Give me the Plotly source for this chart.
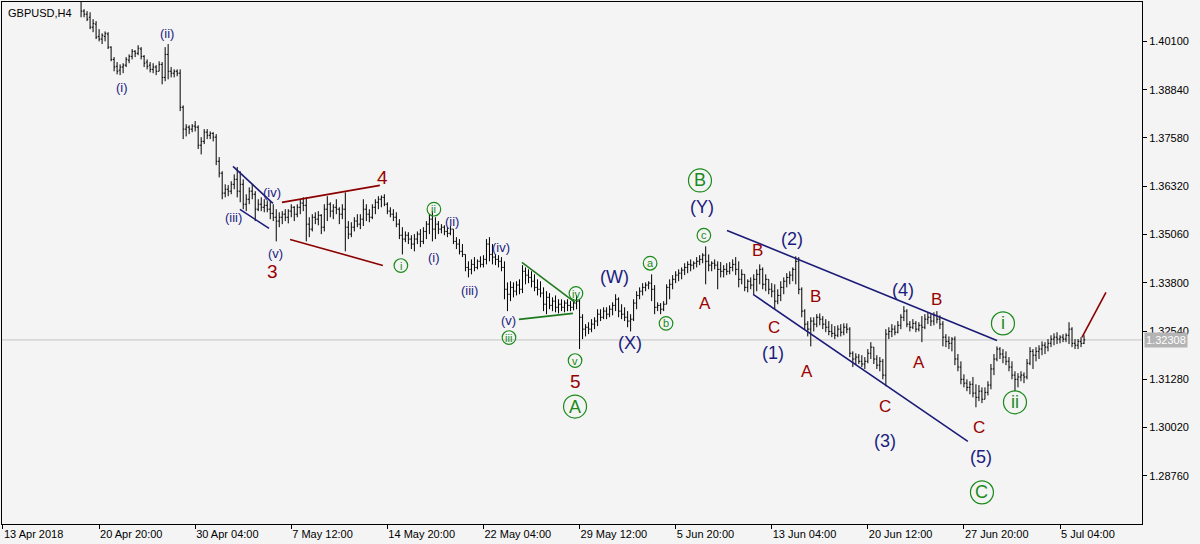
import plotly.graph_objects as go

# ---------------- data (GBPUSD H4) ----------------
FIRST_BAR = 26  # bar index of the first visible bar (index 0 = "13 Apr 2018" tick)

bar_open = [
    1.4133, 1.4089, 1.4081, 1.4073, 1.4047, 1.4055, 1.4023, 1.4016, 1.4023, 1.4029,
    1.3995, 1.3963, 1.3945, 1.3935, 1.3943, 1.3948, 1.3961, 1.3971, 1.3984, 1.3979,
    1.3990, 1.3971, 1.3956, 1.3948, 1.3937, 1.3943, 1.3932, 1.3950, 1.3916, 1.3976,
    1.3932, 1.3927, 1.3932, 1.3927, 1.3838, 1.3781, 1.3786, 1.3781, 1.3789, 1.3786,
    1.3739, 1.3749, 1.3773, 1.3765, 1.3770, 1.3760, 1.3697, 1.3666, 1.3614, 1.3624,
    1.3619, 1.3637, 1.3650, 1.3619, 1.3637, 1.3585, 1.3598, 1.3619, 1.3611, 1.3572,
    1.3585, 1.3577, 1.3582, 1.3572, 1.3561, 1.3551, 1.3541, 1.3551, 1.3559, 1.3551,
    1.3567, 1.3577, 1.3559, 1.3577, 1.3588, 1.3582, 1.3533, 1.3520, 1.3551, 1.3546,
    1.3556, 1.3525, 1.3572, 1.3585, 1.3567, 1.3577, 1.3572, 1.3559, 1.3572, 1.3525,
    1.3507, 1.3525, 1.3541, 1.3533, 1.3546, 1.3572, 1.3559, 1.3551, 1.3577, 1.3590,
    1.3598, 1.3603, 1.3585, 1.3567, 1.3559, 1.3551, 1.3533, 1.3504, 1.3494, 1.3504,
    1.3494, 1.3481, 1.3494, 1.3507, 1.3488, 1.3514, 1.3533, 1.3546, 1.3520, 1.3533,
    1.3520, 1.3525, 1.3514, 1.3509, 1.3520, 1.3488, 1.3481, 1.3462, 1.3454, 1.3420,
    1.3415, 1.3428, 1.3420, 1.3436, 1.3428, 1.3441, 1.3481, 1.3454, 1.3447, 1.3441,
    1.3436, 1.3420, 1.3363, 1.3350, 1.3368, 1.3358, 1.3374, 1.3363, 1.3410, 1.3400,
    1.3394, 1.3384, 1.3368, 1.3363, 1.3353, 1.3324, 1.3342, 1.3321, 1.3332, 1.3316,
    1.3324, 1.3316, 1.3327, 1.3321, 1.3316, 1.3327, 1.3332, 1.3290, 1.3259, 1.3264,
    1.3259, 1.3272, 1.3280, 1.3298, 1.3290, 1.3306, 1.3298, 1.3311, 1.3321, 1.3337,
    1.3306, 1.3298, 1.3290, 1.3280, 1.3285, 1.3327, 1.3347, 1.3358, 1.3368, 1.3374,
    1.3379, 1.3363, 1.3316, 1.3321, 1.3311, 1.3324, 1.3368, 1.3376, 1.3389, 1.3400,
    1.3405, 1.3413, 1.3420, 1.3428, 1.3426, 1.3431, 1.3436, 1.3441, 1.3452, 1.3436,
    1.3426, 1.3431, 1.3426, 1.3415, 1.3410, 1.3415, 1.3410, 1.3420, 1.3428, 1.3415,
    1.3389, 1.3402, 1.3368, 1.3384, 1.3374, 1.3389, 1.3402, 1.3415, 1.3376, 1.3389,
    1.3363, 1.3358, 1.3332, 1.3347, 1.3368, 1.3384, 1.3394, 1.3400, 1.3415, 1.3436,
    1.3363, 1.3306, 1.3272, 1.3259, 1.3280, 1.3272, 1.3290, 1.3285, 1.3272, 1.3264,
    1.3253, 1.3248, 1.3243, 1.3259, 1.3251, 1.3264, 1.3259, 1.3196, 1.3181, 1.3186,
    1.3175, 1.3168, 1.3175, 1.3196, 1.3212, 1.3181, 1.3165, 1.3175, 1.3139, 1.3246,
    1.3253, 1.3259, 1.3251, 1.3269, 1.3290, 1.3306, 1.3272, 1.3264, 1.3274, 1.3259,
    1.3269, 1.3264, 1.3285, 1.3290, 1.3280, 1.3295, 1.3285, 1.3272, 1.3238, 1.3227,
    1.3222, 1.3233, 1.3181, 1.3160, 1.3128, 1.3118, 1.3107, 1.3115, 1.3092, 1.3081,
    1.3097, 1.3076, 1.3094, 1.3113, 1.3155, 1.3181, 1.3207, 1.3194, 1.3186, 1.3175,
    1.3160, 1.3139, 1.3128, 1.3134, 1.3139, 1.3134, 1.3170, 1.3201, 1.3191, 1.3201,
    1.3207, 1.3217, 1.3212, 1.3222, 1.3233, 1.3238, 1.3233, 1.3238, 1.3233, 1.3243,
    1.3259, 1.3222, 1.3217, 1.3227, 1.3222,
]

bar_high = [
    1.4146, 1.4094, 1.4089, 1.4086, 1.4068, 1.4063, 1.4042, 1.4031, 1.4036, 1.4034,
    1.3997, 1.3969, 1.3956, 1.3950, 1.3953, 1.3969, 1.3976, 1.3990, 1.3987, 1.4000,
    1.3995, 1.3974, 1.3963, 1.3956, 1.3953, 1.3948, 1.3958, 1.3956, 1.3995, 1.4003,
    1.3943, 1.3937, 1.3937, 1.3937, 1.3843, 1.3794, 1.3791, 1.3794, 1.3802, 1.3791,
    1.3760, 1.3781, 1.3781, 1.3775, 1.3773, 1.3768, 1.3708, 1.3671, 1.3637, 1.3635,
    1.3645, 1.3663, 1.3682, 1.3671, 1.3650, 1.3611, 1.3629, 1.3637, 1.3619, 1.3598,
    1.3603, 1.3598, 1.3595, 1.3593, 1.3585, 1.3572, 1.3564, 1.3567, 1.3572, 1.3572,
    1.3585, 1.3580, 1.3585, 1.3598, 1.3603, 1.3603, 1.3551, 1.3559, 1.3564, 1.3567,
    1.3559, 1.3585, 1.3606, 1.3590, 1.3585, 1.3598, 1.3577, 1.3585, 1.3616, 1.3541,
    1.3538, 1.3551, 1.3559, 1.3559, 1.3598, 1.3585, 1.3572, 1.3585, 1.3598, 1.3606,
    1.3608, 1.3611, 1.3590, 1.3577, 1.3572, 1.3564, 1.3546, 1.3525, 1.3514, 1.3512,
    1.3504, 1.3507, 1.3514, 1.3520, 1.3525, 1.3541, 1.3559, 1.3567, 1.3551, 1.3541,
    1.3533, 1.3530, 1.3525, 1.3528, 1.3520, 1.3499, 1.3494, 1.3481, 1.3454, 1.3436,
    1.3441, 1.3447, 1.3441, 1.3449, 1.3452, 1.3494, 1.3499, 1.3481, 1.3454, 1.3452,
    1.3447, 1.3436, 1.3381, 1.3384, 1.3381, 1.3384, 1.3389, 1.3426, 1.3420, 1.3415,
    1.3410, 1.3402, 1.3389, 1.3384, 1.3368, 1.3358, 1.3353, 1.3342, 1.3347, 1.3337,
    1.3337, 1.3334, 1.3337, 1.3332, 1.3337, 1.3347, 1.3337, 1.3298, 1.3272, 1.3277,
    1.3285, 1.3290, 1.3311, 1.3311, 1.3316, 1.3316, 1.3321, 1.3329, 1.3350, 1.3342,
    1.3324, 1.3316, 1.3306, 1.3298, 1.3337, 1.3358, 1.3368, 1.3379, 1.3381, 1.3384,
    1.3402, 1.3374, 1.3329, 1.3327, 1.3332, 1.3376, 1.3389, 1.3400, 1.3410, 1.3415,
    1.3420, 1.3431, 1.3436, 1.3441, 1.3436, 1.3447, 1.3452, 1.3457, 1.3475, 1.3454,
    1.3436, 1.3441, 1.3436, 1.3434, 1.3426, 1.3431, 1.3434, 1.3441, 1.3447, 1.3436,
    1.3415, 1.3402, 1.3389, 1.3394, 1.3402, 1.3415, 1.3428, 1.3420, 1.3402, 1.3389,
    1.3379, 1.3376, 1.3363, 1.3384, 1.3394, 1.3405, 1.3410, 1.3420, 1.3449, 1.3447,
    1.3368, 1.3311, 1.3280, 1.3290, 1.3290, 1.3298, 1.3300, 1.3293, 1.3285, 1.3280,
    1.3272, 1.3267, 1.3269, 1.3272, 1.3274, 1.3274, 1.3264, 1.3201, 1.3196, 1.3194,
    1.3191, 1.3186, 1.3207, 1.3225, 1.3212, 1.3191, 1.3186, 1.3181, 1.3259, 1.3264,
    1.3272, 1.3269, 1.3280, 1.3298, 1.3319, 1.3311, 1.3280, 1.3285, 1.3280, 1.3277,
    1.3293, 1.3298, 1.3303, 1.3300, 1.3303, 1.3306, 1.3295, 1.3280, 1.3246, 1.3240,
    1.3238, 1.3240, 1.3194, 1.3175, 1.3141, 1.3128, 1.3123, 1.3134, 1.3115, 1.3113,
    1.3107, 1.3107, 1.3123, 1.3168, 1.3194, 1.3214, 1.3212, 1.3207, 1.3201, 1.3186,
    1.3175, 1.3149, 1.3144, 1.3149, 1.3146, 1.3181, 1.3212, 1.3207, 1.3212, 1.3217,
    1.3227, 1.3225, 1.3233, 1.3243, 1.3248, 1.3251, 1.3243, 1.3246, 1.3248, 1.3277,
    1.3264, 1.3233, 1.3233, 1.3238, 1.3243,
]

bar_low = [
    1.4073, 1.4073, 1.4063, 1.4042, 1.4034, 1.4016, 1.4010, 1.4003, 1.4010, 1.3990,
    1.3958, 1.3932, 1.3924, 1.3922, 1.3927, 1.3943, 1.3953, 1.3963, 1.3969, 1.3974,
    1.3963, 1.3943, 1.3937, 1.3929, 1.3927, 1.3922, 1.3932, 1.3898, 1.3906, 1.3911,
    1.3916, 1.3916, 1.3919, 1.3828, 1.3755, 1.3762, 1.3768, 1.3773, 1.3775, 1.3729,
    1.3715, 1.3742, 1.3755, 1.3755, 1.3749, 1.3687, 1.3655, 1.3598, 1.3603, 1.3606,
    1.3611, 1.3624, 1.3603, 1.3590, 1.3572, 1.3567, 1.3585, 1.3598, 1.3541, 1.3567,
    1.3567, 1.3564, 1.3564, 1.3546, 1.3541, 1.3488, 1.3525, 1.3533, 1.3541, 1.3535,
    1.3551, 1.3541, 1.3551, 1.3559, 1.3567, 1.3488, 1.3499, 1.3514, 1.3533, 1.3530,
    1.3507, 1.3514, 1.3541, 1.3551, 1.3546, 1.3559, 1.3533, 1.3546, 1.3462, 1.3494,
    1.3499, 1.3514, 1.3525, 1.3520, 1.3528, 1.3541, 1.3538, 1.3546, 1.3559, 1.3572,
    1.3577, 1.3580, 1.3559, 1.3551, 1.3541, 1.3525, 1.3494, 1.3454, 1.3486, 1.3481,
    1.3468, 1.3462, 1.3481, 1.3473, 1.3481, 1.3494, 1.3507, 1.3488, 1.3494, 1.3507,
    1.3509, 1.3504, 1.3499, 1.3504, 1.3481, 1.3468, 1.3454, 1.3447, 1.3410, 1.3394,
    1.3402, 1.3410, 1.3415, 1.3420, 1.3420, 1.3428, 1.3436, 1.3428, 1.3426, 1.3420,
    1.3410, 1.3337, 1.3306, 1.3332, 1.3342, 1.3347, 1.3350, 1.3353, 1.3376, 1.3379,
    1.3368, 1.3358, 1.3347, 1.3342, 1.3306, 1.3298, 1.3311, 1.3306, 1.3303, 1.3300,
    1.3306, 1.3303, 1.3306, 1.3306, 1.3308, 1.3311, 1.3207, 1.3233, 1.3240, 1.3246,
    1.3251, 1.3259, 1.3267, 1.3280, 1.3285, 1.3285, 1.3290, 1.3295, 1.3306, 1.3290,
    1.3285, 1.3280, 1.3264, 1.3253, 1.3280, 1.3311, 1.3337, 1.3347, 1.3358, 1.3363,
    1.3332, 1.3298, 1.3306, 1.3298, 1.3306, 1.3324, 1.3337, 1.3363, 1.3379, 1.3384,
    1.3389, 1.3400, 1.3405, 1.3410, 1.3415, 1.3420, 1.3426, 1.3431, 1.3376, 1.3410,
    1.3410, 1.3415, 1.3363, 1.3394, 1.3394, 1.3400, 1.3402, 1.3410, 1.3400, 1.3368,
    1.3376, 1.3358, 1.3355, 1.3363, 1.3350, 1.3358, 1.3376, 1.3363, 1.3358, 1.3350,
    1.3342, 1.3311, 1.3324, 1.3332, 1.3350, 1.3368, 1.3376, 1.3384, 1.3376, 1.3350,
    1.3290, 1.3259, 1.3240, 1.3214, 1.3253, 1.3264, 1.3269, 1.3259, 1.3251, 1.3243,
    1.3238, 1.3233, 1.3238, 1.3240, 1.3243, 1.3248, 1.3186, 1.3160, 1.3165, 1.3168,
    1.3160, 1.3155, 1.3170, 1.3181, 1.3168, 1.3155, 1.3149, 1.3128, 1.3110, 1.3233,
    1.3238, 1.3243, 1.3248, 1.3259, 1.3280, 1.3264, 1.3253, 1.3259, 1.3251, 1.3253,
    1.3225, 1.3259, 1.3272, 1.3267, 1.3269, 1.3274, 1.3259, 1.3214, 1.3212, 1.3207,
    1.3201, 1.3165, 1.3149, 1.3115, 1.3107, 1.3097, 1.3089, 1.3081, 1.3055, 1.3071,
    1.3066, 1.3076, 1.3086, 1.3102, 1.3139, 1.3175, 1.3181, 1.3170, 1.3165, 1.3149,
    1.3128, 1.3097, 1.3107, 1.3123, 1.3118, 1.3128, 1.3165, 1.3155, 1.3175, 1.3181,
    1.3191, 1.3194, 1.3201, 1.3212, 1.3217, 1.3220, 1.3222, 1.3225, 1.3225, 1.3220,
    1.3212, 1.3207, 1.3207, 1.3212, 1.3220,
]

bar_close = [
    1.4089, 1.4081, 1.4068, 1.4047, 1.4057, 1.4021, 1.4016, 1.4026, 1.4031, 1.3995,
    1.3963, 1.3943, 1.3932, 1.3943, 1.3948, 1.3963, 1.3971, 1.3984, 1.3979, 1.3992,
    1.3971, 1.3953, 1.3945, 1.3937, 1.3943, 1.3932, 1.3950, 1.3916, 1.3976, 1.3932,
    1.3927, 1.3932, 1.3927, 1.3838, 1.3781, 1.3786, 1.3781, 1.3789, 1.3786, 1.3739,
    1.3749, 1.3773, 1.3765, 1.3770, 1.3760, 1.3697, 1.3666, 1.3614, 1.3624, 1.3619,
    1.3637, 1.3650, 1.3619, 1.3637, 1.3585, 1.3598, 1.3619, 1.3611, 1.3572, 1.3585,
    1.3577, 1.3582, 1.3572, 1.3561, 1.3551, 1.3541, 1.3551, 1.3559, 1.3551, 1.3567,
    1.3577, 1.3559, 1.3577, 1.3588, 1.3582, 1.3533, 1.3520, 1.3551, 1.3546, 1.3556,
    1.3525, 1.3572, 1.3585, 1.3567, 1.3577, 1.3572, 1.3559, 1.3572, 1.3525, 1.3507,
    1.3525, 1.3541, 1.3533, 1.3546, 1.3572, 1.3559, 1.3551, 1.3577, 1.3590, 1.3598,
    1.3603, 1.3585, 1.3567, 1.3559, 1.3551, 1.3533, 1.3504, 1.3494, 1.3504, 1.3494,
    1.3481, 1.3494, 1.3507, 1.3488, 1.3514, 1.3533, 1.3546, 1.3520, 1.3533, 1.3520,
    1.3525, 1.3514, 1.3509, 1.3520, 1.3488, 1.3481, 1.3462, 1.3454, 1.3420, 1.3415,
    1.3428, 1.3420, 1.3436, 1.3428, 1.3441, 1.3481, 1.3454, 1.3447, 1.3441, 1.3436,
    1.3420, 1.3363, 1.3350, 1.3368, 1.3358, 1.3374, 1.3363, 1.3410, 1.3400, 1.3394,
    1.3384, 1.3368, 1.3363, 1.3353, 1.3324, 1.3342, 1.3321, 1.3332, 1.3316, 1.3324,
    1.3316, 1.3327, 1.3321, 1.3316, 1.3327, 1.3332, 1.3290, 1.3259, 1.3264, 1.3259,
    1.3272, 1.3280, 1.3298, 1.3290, 1.3306, 1.3298, 1.3311, 1.3321, 1.3337, 1.3306,
    1.3298, 1.3290, 1.3280, 1.3285, 1.3327, 1.3347, 1.3358, 1.3368, 1.3374, 1.3379,
    1.3363, 1.3316, 1.3321, 1.3311, 1.3324, 1.3368, 1.3376, 1.3389, 1.3400, 1.3405,
    1.3413, 1.3420, 1.3428, 1.3426, 1.3431, 1.3436, 1.3441, 1.3452, 1.3436, 1.3426,
    1.3431, 1.3426, 1.3415, 1.3410, 1.3415, 1.3410, 1.3420, 1.3428, 1.3415, 1.3389,
    1.3402, 1.3368, 1.3384, 1.3374, 1.3389, 1.3402, 1.3415, 1.3376, 1.3389, 1.3363,
    1.3358, 1.3332, 1.3347, 1.3368, 1.3384, 1.3394, 1.3400, 1.3415, 1.3436, 1.3363,
    1.3306, 1.3272, 1.3259, 1.3280, 1.3272, 1.3290, 1.3285, 1.3272, 1.3264, 1.3253,
    1.3248, 1.3243, 1.3259, 1.3251, 1.3264, 1.3259, 1.3196, 1.3181, 1.3186, 1.3175,
    1.3168, 1.3175, 1.3196, 1.3212, 1.3181, 1.3165, 1.3175, 1.3139, 1.3246, 1.3253,
    1.3259, 1.3251, 1.3269, 1.3290, 1.3306, 1.3272, 1.3264, 1.3274, 1.3259, 1.3269,
    1.3264, 1.3285, 1.3290, 1.3280, 1.3295, 1.3285, 1.3272, 1.3238, 1.3227, 1.3222,
    1.3233, 1.3181, 1.3160, 1.3128, 1.3118, 1.3107, 1.3115, 1.3092, 1.3081, 1.3097,
    1.3076, 1.3094, 1.3113, 1.3155, 1.3181, 1.3207, 1.3194, 1.3186, 1.3175, 1.3160,
    1.3139, 1.3128, 1.3134, 1.3139, 1.3134, 1.3170, 1.3201, 1.3191, 1.3201, 1.3207,
    1.3217, 1.3212, 1.3222, 1.3233, 1.3238, 1.3233, 1.3238, 1.3233, 1.3243, 1.3259,
    1.3222, 1.3217, 1.3227, 1.3222, 1.3231,
]

last_price = 1.32308

tick_bars = [0, 32, 64, 96, 128, 160, 192, 224, 256, 288, 320, 352]
tick_labels = ["13 Apr 2018", "20 Apr 20:00", "30 Apr 04:00", "7 May 12:00",
               "14 May 20:00", "22 May 04:00", "29 May 12:00", "5 Jun 20:00",
               "13 Jun 04:00", "20 Jun 12:00", "27 Jun 20:00", "5 Jul 04:00"]
price_ticks = [1.28760, 1.30020, 1.31280, 1.32540, 1.33800,
               1.35060, 1.36320, 1.37580, 1.38840, 1.40100]

# wave labels: (text, bar index, price)
red_labels = [("1", 22.3, 1.4125), ("3", 89.9, 1.3410), ("4", 126.5, 1.3655),
              ("5", 190.8, 1.3123)]
red_letters = [("A", 233.8, 1.3326), ("B", 251.1, 1.3465), ("C", 256.7, 1.3263),
               ("B", 270.7, 1.3345), ("A", 267.7, 1.3149), ("C", 293.7, 1.3057),
               ("A", 305.0, 1.3172), ("B", 311.0, 1.3337), ("C", 325.0, 1.3003)]
blue_small = [("(i)", 39.6, 1.3890), ("(ii)", 54.6, 1.4031), ("(iii)", 76.6, 1.3551),
              ("(iv)", 89.6, 1.3616), ("(v)", 90.6, 1.3457), ("(i)", 143.5, 1.3446),
              ("(ii)", 149.5, 1.3540), ("(iii)", 155.5, 1.3360), ("(iv)", 165.8, 1.3472),
              ("(v)", 168.5, 1.3282)]
blue_big = [("(W)", 203.8, 1.3394), ("(X)", 208.8, 1.3224), ("(Y)", 232.8, 1.3577),
            ("(1)", 256.4, 1.3196), ("(2)", 262.7, 1.3493), ("(3)", 293.7, 1.2966),
            ("(4)", 299.7, 1.3360), ("(5)", 325.7, 1.2924)]
green_small = [("i", 132.5, 1.3425), ("ii", 143.5, 1.3572), ("iii", 168.5, 1.3237),
               ("iv", 190.8, 1.3352), ("v", 190.5, 1.3177), ("a", 215.5, 1.3431),
               ("b", 220.8, 1.3274), ("c", 233.4, 1.3504)]
green_big = [("A", 190.5, 1.3057), ("B", 232.1, 1.3647), ("C", 326.0, 1.2833),
             ("i", 333.0, 1.3274), ("ii", 337.0, 1.3068)]

# trend lines: (x0, y0, x1, y1, colour key)
trend_lines = [
    (76.6, 1.36837, 89.9, 1.35872, "blue"), (78.9, 1.35715, 88.6, 1.35219, "blue"),
    (92.9, 1.35898, 125.5, 1.36341, "red"), (95.6, 1.34932, 126.5, 1.34253, "red"),
    (172.8, 1.34332, 190.5, 1.33288, "green"), (171.8, 1.32844, 189.8, 1.33001, "green"),
    (241.1, 1.35167, 331.0, 1.32296, "blue"), (249.8, 1.33497, 321.3, 1.29660, "blue"),
    (359.3, 1.32374, 367.3, 1.33549, "red"),
]

# ---------------- styling ----------------
BG = "#f4f4f4"
BAR = "#000000"
RED = "#990000"
BLUE = "#1c1c80"
GREEN = "#1b8a1b"
COLORS = {"red": "#8b0000", "blue": "#1c1c78", "green": "#1e7a1e"}
FONT = "Liberation Sans"

n = len(bar_close)
bar_x = list(range(FIRST_BAR, FIRST_BAR + n))

fig = go.Figure(go.Ohlc(
    x=bar_x, open=bar_open[:n], high=bar_high[:n], low=bar_low[:n], close=bar_close,
    increasing=dict(line=dict(color=BAR, width=1)),
    decreasing=dict(line=dict(color=BAR, width=1)),
    tickwidth=0.4, hoverinfo="skip", showlegend=False,
))

shapes = []
annotations = []

# current price line
shapes.append(dict(type="line", xref="paper", x0=0, x1=1, yref="y",
                   y0=last_price, y1=last_price, layer="below",
                   line=dict(color="#c4c4c4", width=1)))

for x0, y0, x1, y1, c in trend_lines:
    shapes.append(dict(type="line", xref="x", yref="y", x0=x0, y0=y0, x1=x1, y1=y1,
                       line=dict(color=COLORS[c], width=1.6)))


def add_text(txt, x, y, color, size, yshift=0):
    annotations.append(dict(text=txt, x=x, y=y, xref="x", yref="y", showarrow=False,
                            xanchor="center", yanchor="middle", yshift=yshift,
                            font=dict(family=FONT, size=size, color=color)))


for t, x, y in red_labels:
    add_text(t, x, y, RED, 19)
for t, x, y in red_letters:
    add_text(t, x, y, RED, 17)
for t, x, y in blue_small:
    add_text(t, x, y, BLUE, 13)
for t, x, y in blue_big:
    add_text(t, x, y, BLUE, 18)


def add_circled(txt, x, y, r, size):
    shapes.append(dict(type="circle", xref="x", yref="y", xsizemode="pixel",
                       ysizemode="pixel", xanchor=x, yanchor=y,
                       x0=-r, x1=r, y0=-r, y1=r, line=dict(color=GREEN, width=1.2)))
    add_text(txt, x, y, GREEN, size, yshift=0)


for t, x, y in green_small:
    add_circled(t, x, y, 6.8, 11)
for t, x, y in green_big:
    add_circled(t, x, y, 11.5, 18)

# symbol / timeframe caption
annotations.append(dict(text="GBPUSD,H4", xref="paper", yref="paper", x=0, y=1,
                        xanchor="left", yanchor="top", xshift=4, yshift=-3,
                        showarrow=False, font=dict(family=FONT, size=11, color="#000000")))
# current price tag
annotations.append(dict(text=f"{last_price:.5f}", xref="paper", yref="y", x=1,
                        y=last_price, xanchor="left", yanchor="middle", xshift=2,
                        showarrow=False, bgcolor="#b4b4b4", borderpad=1,
                        font=dict(family=FONT, size=11, color="#ffffff")))

fig.update_layout(
    width=1200, height=544,
    margin=dict(l=2, r=58, t=2, b=20),
    paper_bgcolor=BG, plot_bgcolor=BG,
    showlegend=False, hovermode=False,
    shapes=shapes, annotations=annotations,
    xaxis=dict(range=[-0.33, 379.3], tickvals=tick_bars, ticktext=tick_labels,
               ticks="outside", ticklen=4, tickcolor="#000000",
               ticklabelposition="outside right",
               tickfont=dict(family=FONT, size=11, color="#000000"),
               showgrid=False, zeroline=False, showline=True, linecolor="#000000",
               linewidth=1, mirror=True, rangeslider=dict(visible=False)),
    yaxis=dict(range=[1.27504, 1.41128], side="right", tickvals=price_ticks,
               ticktext=[f"{v:.5f}" for v in price_ticks],
               ticks="outside", ticklen=4, tickcolor="#000000",
               tickfont=dict(family=FONT, size=11, color="#000000"),
               showgrid=False, zeroline=False, showline=True, linecolor="#000000",
               linewidth=1, mirror=True),
)

fig.write_html(
    "out.html",
    config={"displayModeBar": False, "staticPlot": True},
    post_script="document.body.style.margin='0';document.body.style.overflow='hidden';",
)
